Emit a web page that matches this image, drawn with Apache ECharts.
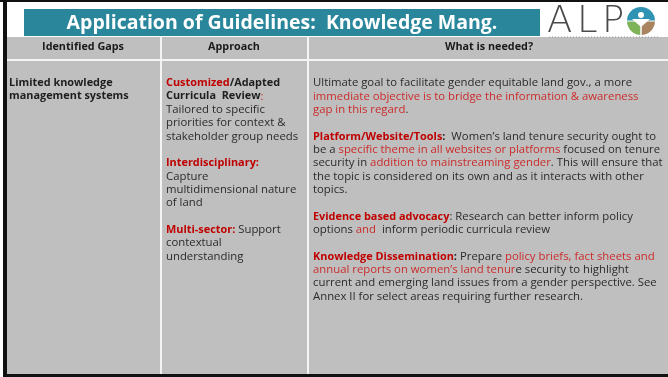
<!DOCTYPE html>
<html><head><meta charset="utf-8">
<script src="https://cdn.jsdelivr.net/npm/echarts@6/dist/echarts.min.js"></script>
<style>html,body{margin:0;padding:0;background:#fff;overflow:hidden}#c{width:668px;height:377px}</style>
</head><body><div id="c"></div>
<script>
// ---- content ----
const titleText = 'Application of Guidelines:  Knowledge Mang.';
const headers = ['Identified Gaps', 'Approach', 'What is needed?'];
const logoLetters = ['A', 'L', 'P'];
// segment kinds: k = plain, b = bold, H = bold red heading, r = red text; [] = empty line
const gapLines = [
  [['b', 'Limited knowledge']],
  [['b', 'management systems']]
];
const approachLines = [
  [['H', 'Customized'], ['b', '/Adapted']],
  [['b', 'Curricula  Review'], ['r', ':']],
  [['k', 'Tailored to specific']],
  [['k', 'priorities for context &']],
  [['k', 'stakeholder group needs']],
  [],
  [['H', 'Interdisciplinary:']],
  [['k', 'Capture']],
  [['k', 'multidimensional nature']],
  [['k', 'of land']],
  [],
  [['H', 'Multi-sector:'], ['k', ' Support']],
  [['k', 'contextual']],
  [['k', 'understanding']]
];
const neededLines = [
  [['k', 'Ultimate goal to facilitate gender equitable land gov., a more']],
  [['r', 'immediate objective is to bridge the information & awareness']],
  [['r', 'gap in this regard'], ['k', '.']],
  [],
  [['H', 'Platform/Website/Tools'], ['b', ':'], ['k', '  Women\u2019s land tenure security ought to']],
  [['k', 'be a '], ['r', 'specific theme in all websites or platforms'], ['k', ' focused on tenure']],
  [['k', 'security in '], ['r', 'addition to mainstreaming gender'], ['k', '. This will ensure that']],
  [['k', 'the topic is considered on its own and as it interacts with other']],
  [['k', 'topics.']],
  [],
  [['H', 'Evidence based advocacy'], ['k', ': Research can better inform policy']],
  [['k', 'options '], ['r', 'and'], ['k', '  inform periodic curricula review']],
  [],
  [['H', 'Knowledge Dissemination'], ['b', ':'], ['k', ' Prepare '], ['r', 'policy briefs, fact sheets and']],
  [['r', 'annual reports on women\u2019s land tenur'], ['k', 'e security to highlight']],
  [['k', 'current and emerging land issues from a gender perspective. See']],
  [['k', 'Annex II for select areas requiring further research.']]
];

// ---- rendering ----
const FONT = '"Open Sans", "DejaVu Sans", sans-serif';
const FS = 11.35;
const BFS = 10.9;
const HFS = 10.8;
const DARK = '#2b2b2b';
const RED_H = '#c00000';
const RED = '#cc2b2b';
const GRAY = '#bfbfbf';
const rich = {
  k: { fontFamily: FONT, fontSize: FS, fill: DARK, fontWeight: 'normal' },
  b: { fontFamily: FONT, fontSize: BFS, fill: '#1e1e1e', fontWeight: 'bold' },
  H: { fontFamily: FONT, fontSize: BFS, fill: RED_H, fontWeight: 'bold' },
  r: { fontFamily: FONT, fontSize: FS, fill: RED, fontWeight: 'normal' }
};
function lineText(segs) {
  return segs.map(s => '{' + s[0] + '|' + s[1] + '}').join('');
}
function columnTexts(lines, x, y0, lh) {
  const out = [];
  lines.forEach((segs, i) => {
    if (!segs.length) return;
    out.push({
      type: 'text', z: 10,
      style: { x: x, y: y0 + i * lh, text: lineText(segs), rich: rich, verticalAlign: 'middle', align: 'left',
               fontFamily: FONT, fontSize: FS }
    });
  });
  return out;
}

const W = 668, H = 377;
const LH = 13.35, Y0 = 83;
const logoX = [547, 577, 602];
const elements = [
  // background pieces
  { type: 'rect', shape: { x: 0, y: 0, width: W, height: H }, style: { fill: '#ffffff' } },
  { type: 'rect', shape: { x: 7, y: 37, width: W - 7, height: 337 }, style: { fill: GRAY } },
  // header separator + column dividers
  { type: 'rect', shape: { x: 7, y: 59, width: W - 7, height: 2 }, style: { fill: '#f4f4f4' }, z: 2 },
  { type: 'rect', shape: { x: 160, y: 37, width: 2, height: 337 }, style: { fill: '#f4f4f4' }, z: 2 },
  { type: 'rect', shape: { x: 307, y: 37, width: 2, height: 337 }, style: { fill: '#f4f4f4' }, z: 2 },
  // black frame
  { type: 'rect', shape: { x: 0, y: 0, width: W, height: 2 }, style: { fill: '#111' }, z: 5 },
  { type: 'rect', shape: { x: 3, y: 0, width: 4, height: H }, style: { fill: '#111' }, z: 5 },
  { type: 'rect', shape: { x: 3, y: 374, width: W - 3, height: 3 }, style: { fill: '#111' }, z: 5 },
  // title bar
  { type: 'rect', shape: { x: 24, y: 9, width: 516, height: 27 }, style: { fill: '#2a869b' }, z: 3 },
  { type: 'text', z: 4, style: { x: 282, y: 23, text: titleText, align: 'center', verticalAlign: 'middle',
      fontFamily: '"Open Sans", sans-serif', fontWeight: 'bold', fontSize: 19.5, fill: '#ffffff' } },
  // logo circle
  { type: 'sector', z: 4, shape: { cx: 641, cy: 21, r: 14, r0: 0, startAngle: -Math.PI, endAngle: 0 }, style: { fill: '#2f93b3' } },
  { type: 'sector', z: 4, shape: { cx: 641, cy: 21, r: 14, r0: 0, startAngle: Math.PI / 2, endAngle: Math.PI }, style: { fill: '#7fb35a' } },
  { type: 'sector', z: 4, shape: { cx: 641, cy: 21, r: 14, r0: 0, startAngle: 0, endAngle: Math.PI / 2 }, style: { fill: '#a88560' } },
  { type: 'circle', z: 5, shape: { cx: 641, cy: 15, r: 3 }, style: { fill: '#ffffff' } },
  { type: 'polygon', z: 5, shape: { points: [[632, 19], [650, 19], [641, 27]] }, style: { fill: '#ffffff' } },
  { type: 'line', z: 5, shape: { x1: 641, y1: 21, x2: 641, y2: 36 }, style: { stroke: '#ffffff', lineWidth: 1.5 } },
  { type: 'line', z: 5, shape: { x1: 626, y1: 21, x2: 656, y2: 21 }, style: { stroke: '#ffffff', lineWidth: 1 } },
  { type: 'line', z: 4, shape: { x1: 549, y1: 37, x2: 660, y2: 37 }, style: { stroke: '#9a9a9a', lineWidth: 1, lineDash: [1, 2] } },
  // headers
  { type: 'text', z: 4, style: { x: 83, y: 47, text: headers[0], align: 'center', verticalAlign: 'middle', fontFamily: FONT, fontWeight: 'bold', fontSize: HFS, fill: '#1a1a1a' } },
  { type: 'text', z: 4, style: { x: 234, y: 47, text: headers[1], align: 'center', verticalAlign: 'middle', fontFamily: FONT, fontWeight: 'bold', fontSize: HFS, fill: '#1a1a1a' } },
  { type: 'text', z: 4, style: { x: 489, y: 47, text: headers[2], align: 'center', verticalAlign: 'middle', fontFamily: FONT, fontWeight: 'bold', fontSize: HFS, fill: '#1a1a1a' } }
].concat(logoLetters.map((ch, i) => ({
  type: 'text', z: 4, style: { x: logoX[i], y: 22, text: ch, align: 'left', verticalAlign: 'middle',
    fontFamily: '"DejaVu Sans", sans-serif', fontWeight: 200, fontSize: 37, fill: '#4a4a4a' }
}))).concat(columnTexts(gapLines, 9, Y0, LH))
 .concat(columnTexts(approachLines, 166, Y0, LH))
 .concat(columnTexts(neededLines, 313, Y0, LH));

const chart = echarts.init(document.getElementById('c'), null, { renderer: 'canvas' });
chart.setOption({ animation: false, graphic: { elements: elements } });
</script>
</body></html>
